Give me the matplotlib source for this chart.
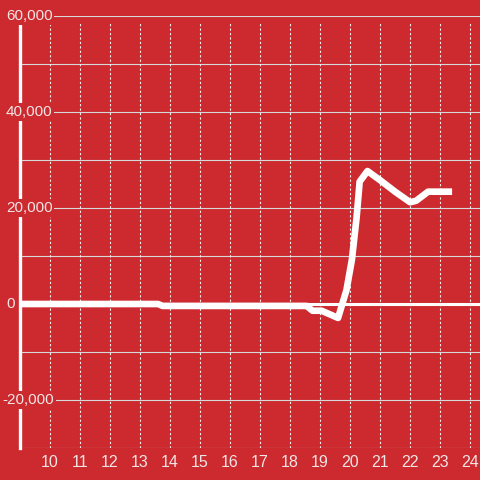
import numpy as np
import matplotlib.pyplot as plt

# values
hours = [9.0, 13.6, 13.75, 18.55, 18.75, 19.05, 19.6, 19.88, 20.06, 20.22, 20.32,
         20.58, 21.0, 21.5, 22.0, 22.2, 22.6, 23.4]
values = [0, 0, -400, -400, -1400, -1400, -2900, 2900, 9200, 18200, 25500,
          27700, 25800, 23400, 21200, 21500, 23400, 23400]

x_ticks = list(range(10, 25))
y_ticks = [-20000, 0, 20000, 40000, 60000]
y_labels = ["-20,000", "0", "20,000", "40,000", "60,000"]

bg = "#cc2a2f"
txt = "#f0e6e6"
plt.rcParams['font.family'] = ['Liberation Sans', 'DejaVu Sans']

fig = plt.figure(figsize=(4.8, 4.8), dpi=100, facecolor=bg)
ax = fig.add_axes([20/480, 32/480, 460/480, 432/480])
ax.set_facecolor(bg)

ax.set_xlim(9, 24.33)
ax.set_ylim(-30000, 60000)

# grid
for yv in range(-30000, 60001, 10000):
    if yv != 0:
        ax.axhline(yv, color="#d8d8d8", lw=0.8, zorder=1)
ax.vlines(x_ticks, -30000, 58500, colors="#f0f0f0", linestyles=(0, (2, 2)), lw=0.8, zorder=1)
ax.axhline(0, color="white", lw=2.2, zorder=2)

ax.plot(hours, values, color="white", lw=4.8, solid_joinstyle="round",
        solid_capstyle="butt", zorder=3)

for s in ["top", "right", "bottom"]:
    ax.spines[s].set_visible(False)
ax.spines["left"].set_color("white")
ax.spines["left"].set_linewidth(2.4)
ax.spines["left"].set_bounds(-30000, 58400)

ax.set_xticks(x_ticks)
ax.set_xticklabels([str(t) for t in x_ticks])
ax.tick_params(axis="x", length=0, pad=5, labelsize=11.5, labelcolor=txt)
ax.set_yticks([])

trans = ax.get_yaxis_transform()
for yv, lab in zip(y_ticks, y_labels):
    x0 = 2.5 if lab.startswith("-") else 6
    ax.text((x0 - 20) / 460, yv, lab, transform=trans, ha="left", va="center",
            fontsize=11, color=txt, zorder=5, clip_on=False,
            bbox=dict(boxstyle="square,pad=0.12", fc=bg, ec="none"))

fig.savefig("out.png", dpi=100, facecolor=bg)
